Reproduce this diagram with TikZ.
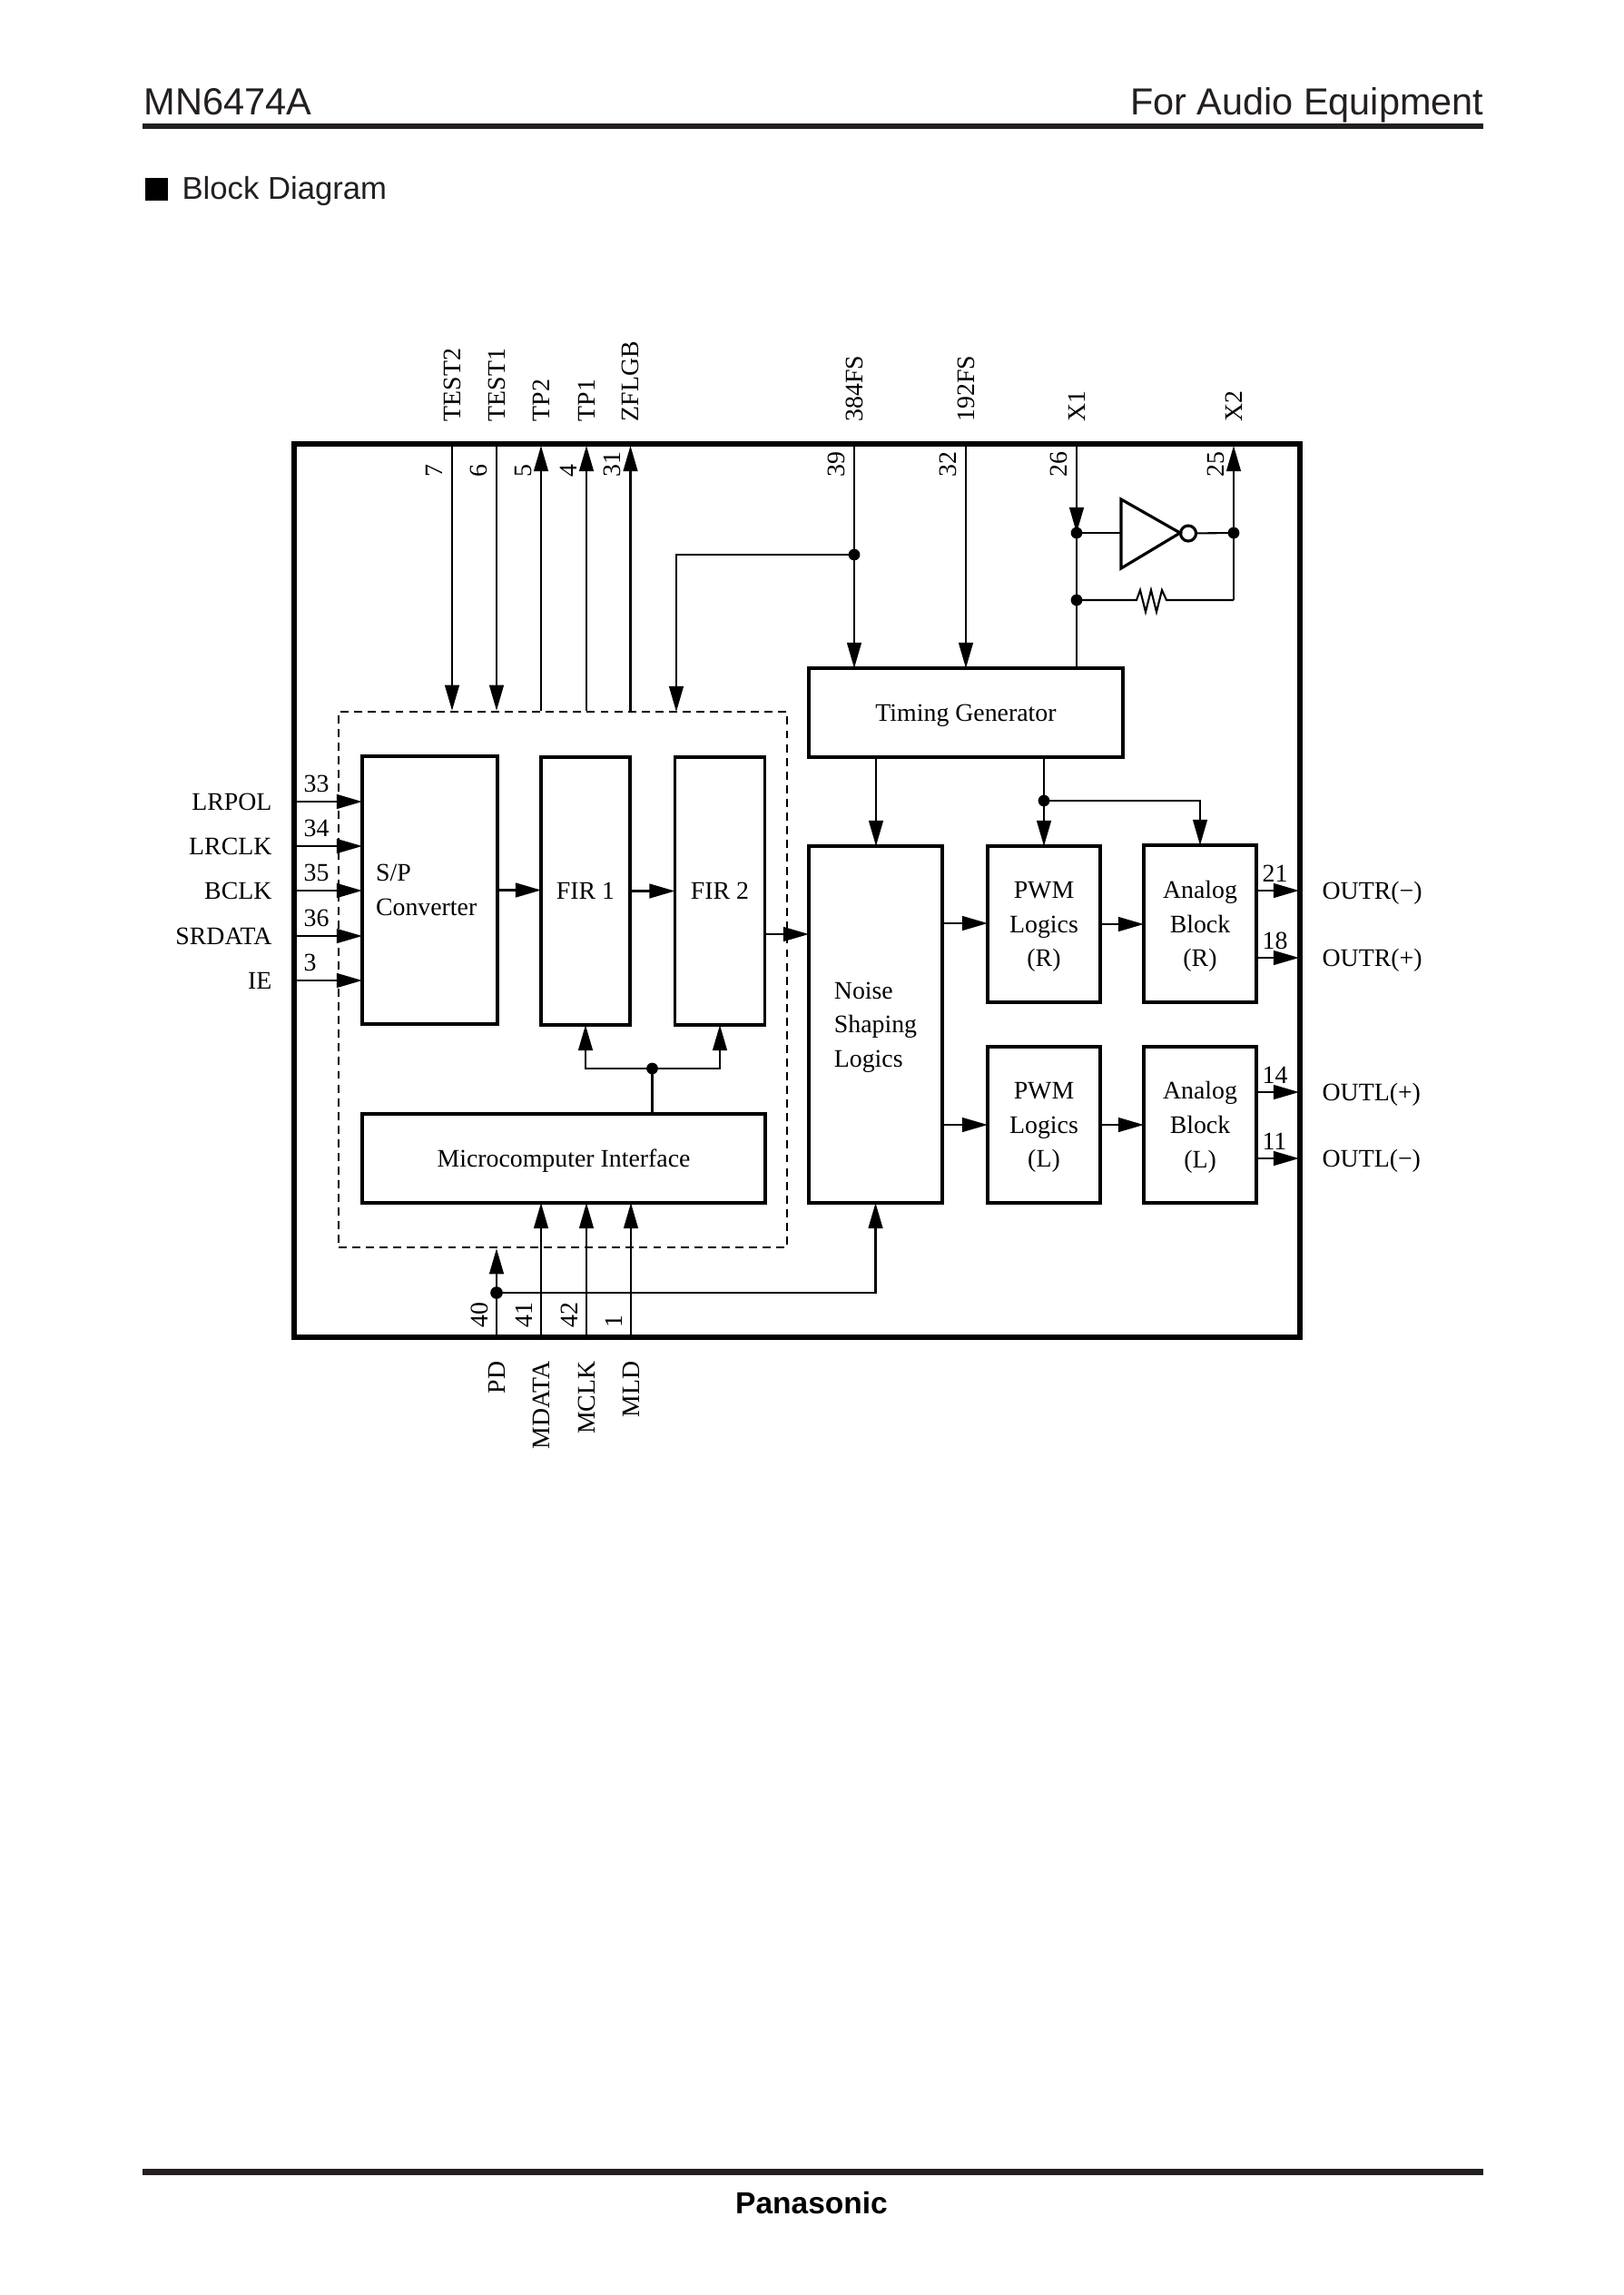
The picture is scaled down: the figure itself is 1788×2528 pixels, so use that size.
\documentclass[tikz,border=0pt]{standalone}
\usepackage{fontspec}
\setmainfont{Liberation Serif}
\setsansfont{Liberation Sans}
\usetikzlibrary{arrows.meta}
\newcommand{\pxu}{0.1175mm}
\definecolor{pageink}{HTML}{231F20}

\begin{document}
\begin{tikzpicture}[x=\pxu, y=-\pxu,
    >={Triangle[length=3.3mm, width=1.85mm]},
    wire/.style={line width=0.7pt},
    block/.style 2 args={draw, line width=1.05pt, inner sep=0pt, outer sep=0pt,
        minimum width=#1*\pxu, minimum height=#2*\pxu, text depth=0pt,
        align=center, font=\fontsize{9.3}{12.6}\selectfont},
    label/.style={inner sep=0pt, font=\fontsize{9.3}{11}\selectfont},
    vlabel/.style={label, rotate=90}]
    \path[fill=white, use as bounding box] (-1, 0) rectangle (1787, 2528);

    % Page header
    \fill[pageink] (156, 136) rectangle (1633, 142);
    \node[anchor=base west, inner sep=0pt, text=pageink, font=\sffamily\fontsize{13.9}{16}\selectfont] (partno) at (157, 126) {MN6474A};
    \node[anchor=base east, inner sep=0pt, text=pageink, font=\sffamily\fontsize{13.85}{16}\selectfont] (usage) at (1634, 126) {For Audio Equipment};
    \fill[black] (159, 196) rectangle (184, 221);
    \node[anchor=base west, inner sep=0pt, text=pageink, font=\sffamily\fontsize{11.6}{13}\selectfont] (heading) at (199, 219) {Block Diagram};

    % Page footer
    \fill[pageink] (156, 2389) rectangle (1633, 2396);
    \node[anchor=base, inner sep=0pt, font=\sffamily\bfseries\fontsize{11.2}{13}\selectfont] (maker) at (893, 2438) {Panasonic};

    % Package outline and dashed digital area
    \node[draw, line width=2pt, inner sep=0pt, minimum width=1108*\pxu, minimum height=984*\pxu] (chip) at (877, 981) {};
    \node[draw, dashed, dash pattern=on 1.05mm off 0.72mm, line width=0.85pt, inner sep=0pt, minimum width=494*\pxu, minimum height=590*\pxu] (core) at (619, 1079) {};

    % Blocks
    \node[block={149}{295}, align=left] (sp) at (472.5, 980.5) {S/P\\Converter\hspace*{0.9mm}};
    \node[block={98}{295}] (firone) at (644, 981.5) {FIR 1};
    \node[block={99}{295}] (firtwo) at (792, 981.5) {FIR 2};
    \node[block={444}{98}] (micro) at (620, 1276) {Microcomputer Interface};
    \node[block={346}{98}] (timing) at (1063, 785) {Timing Generator};
    \node[block={147}{393}, align=left] (noise) at (963.5, 1128.5) {Noise\\Shaping\\Logics};
    \node[block={124}{172}] (pwmr) at (1149, 1018) {PWM\\Logics\\(R)};
    \node[block={124}{172}] (pwml) at (1149, 1239) {PWM\\Logics\\(L)};
    \node[block={124}{173}] (anar) at (1321, 1017.5) {Analog\\Block\\(R)};
    \node[block={124}{172}] (anal) at (1321, 1239) {Analog\\Block\\(L)};

    % Serial inputs on the left
    \foreach \y/\num/\name in {883/33/LRPOL, 932/34/LRCLK, 981/35/BCLK, 1031/36/SRDATA, 1080/3/IE} {
        \coordinate (pad\num) at (324, \y);
        \draw[wire, ->] (pad\num) -- (pad\num -| sp.west);
        \node[label, anchor=base east] (name\num) at (299, \y+9) {\name};
        \node[label, anchor=base west] (num\num) at (333, \y-11) {\num};
    }

    % Outputs on the right
    \foreach \y/\num/\name in {981/21/OUTR(−), 1055/18/OUTR(+), 1203/14/OUTL(+), 1276/11/OUTL(−)} {
        \coordinate (pad\num) at (1430, \y);
        \draw[wire, ->] (pad\num -| anar.east) -- (pad\num);
        \node[label, anchor=base west] (name\num) at (1455, \y+9) {\name};
        \node[label, anchor=base west] (num\num) at (1389, \y-10) {\num};
    }

    % Top pins into the dashed area
    \foreach \x/\num/\name in {497/7/TEST2, 546/6/TEST1} {
        \coordinate (pad\num) at (\x, 489);
        \draw[wire, ->] (pad\num) -- (pad\num |- core.north);
    }
    % Top pins out of the dashed area
    \foreach \x/\num/\name in {595/5/TP2, 645/4/TP1, 693.5/31/ZFLGB} {
        \coordinate (pad\num) at (\x, 491);
        \draw[wire, ->] (pad\num |- core.north) -- (pad\num);
    }
    % Clock pins
    \foreach \x/\num/\name in {940/39/384FS, 1063/32/192FS} {
        \coordinate (pad\num) at (\x, 489);
        \draw[wire, ->] (pad\num) -- (pad\num |- timing.north);
    }
    \coordinate (pad26) at (1185, 489);
    \coordinate (pad25) at (1358, 491);
    % Pin names and numbers along the top
    \foreach \x/\num/\name in {497/7/TEST2, 546/6/TEST1, 595/5/TP2, 645/4/TP1, 693.5/31/ZFLGB, 940/39/384FS, 1063/32/192FS, 1185/26/X1, 1358/25/X2} {
        \node[vlabel, anchor=base west] (name\num) at (\x+9, 465) {\name};
        \node[vlabel, anchor=base west] (num\num) at (\x-11, 526) {\num};
    }

    % Pins along the bottom
    \foreach \x/\num/\name in {546/40/PD, 595/41/MDATA, 645/42/MCLK, 694/1/MLD} {
        \coordinate (pad\num) at (\x, 1473);
        \node[vlabel, anchor=base east] (name\num) at (\x+9, 1499) {\name};
        \node[vlabel, anchor=base west] (num\num) at (\x-10, 1463) {\num};
    }
    \foreach \num in {41, 42, 1} {
        \draw[wire, ->] (pad\num) -- (pad\num |- micro.south);
    }
    \coordinate (pddot) at (546, 1424);
    \draw[wire, ->] (pad40) -- (pad40 |- core.south);
    \draw[wire, ->] (pddot) -- (pddot -| noise.south) -- (noise.south);
    \fill (pddot) circle (0.8mm);

    % Signal path through the blocks
    \draw[wire, ->] (sp.east) -- (firone.west |- sp.east);
    \draw[wire, ->] (firone.east) -- (firtwo.west);
    \coordinate (firout) at (842, 1029);
    \draw[wire, ->] (firout) -- (firout -| noise.west);
    \coordinate (tonoiser) at (1037, 1017);
    \coordinate (tonoisel) at (1037, 1239);
    \draw[wire, ->] (tonoiser) -- (tonoiser -| pwmr.west);
    \draw[wire, ->] (tonoisel) -- (tonoisel -| pwml.west);
    \draw[wire, ->] (pwmr.east) -- (anar.west |- pwmr.east);
    \draw[wire, ->] (pwml.east) -- (anal.west);

    % Microcomputer interface to the FIR filters
    \coordinate (firdot) at (717.5, 1177);
    \draw[wire] (firdot |- micro.north) -- (firdot);
    \draw[wire, ->] (firdot) -- (firone.south |- firdot) -- (firone.south);
    \draw[wire, ->] (firdot) -- (firtwo.south |- firdot) -- (firtwo.south);
    \fill (firdot) circle (0.75mm);

    % Clock distribution
    \coordinate (fsdot) at (940, 611);
    \draw[wire, ->] (fsdot) -- (744, 611) -- (744, 784);
    \fill (fsdot) circle (0.75mm);
    \draw[wire, ->] (964, 834) -- (964, 932);
    \coordinate (tgdot) at (1149, 882);
    \draw[wire, ->] (tgdot |- timing.south) -- (pwmr.north);
    \draw[wire, ->] (tgdot) -- (anar.north |- tgdot) -- (anar.north);
    \fill (tgdot) circle (0.75mm);

    % Oscillator between X1 and X2
    \coordinate (xidot) at (1185, 587);
    \coordinate (fbdot) at (1185, 661);
    \coordinate (xodot) at (1358, 587);
    \coordinate (xofb) at (1358, 661);
    \draw[wire, ->] (pad26) -- (xidot);
    \draw[wire] (xidot) -- (pad26 |- timing.north);
    \draw[line width=1.05pt] (1234, 550) -- (1299, 587) -- (1234, 626) -- cycle;
    \node[draw, circle, line width=1.05pt, inner sep=0pt, minimum size=17*\pxu] (bubble) at (1308, 587.5) {};
    \draw[wire] (xidot) -- (1234, 587);
    \draw[wire] (bubble) -- (xodot);
    \draw[wire, ->] (xofb) -- (pad25);
    \draw[wire] (fbdot) -- (1251, 661) -- (1255, 650) -- (1261, 674) -- (1267, 650) -- (1273, 674) -- (1279, 650) -- (1284, 661) -- (xofb);
    \foreach \dot in {xidot, fbdot, xodot} {
        \fill (\dot) circle (0.75mm);
    }
\end{tikzpicture}
\end{document}
